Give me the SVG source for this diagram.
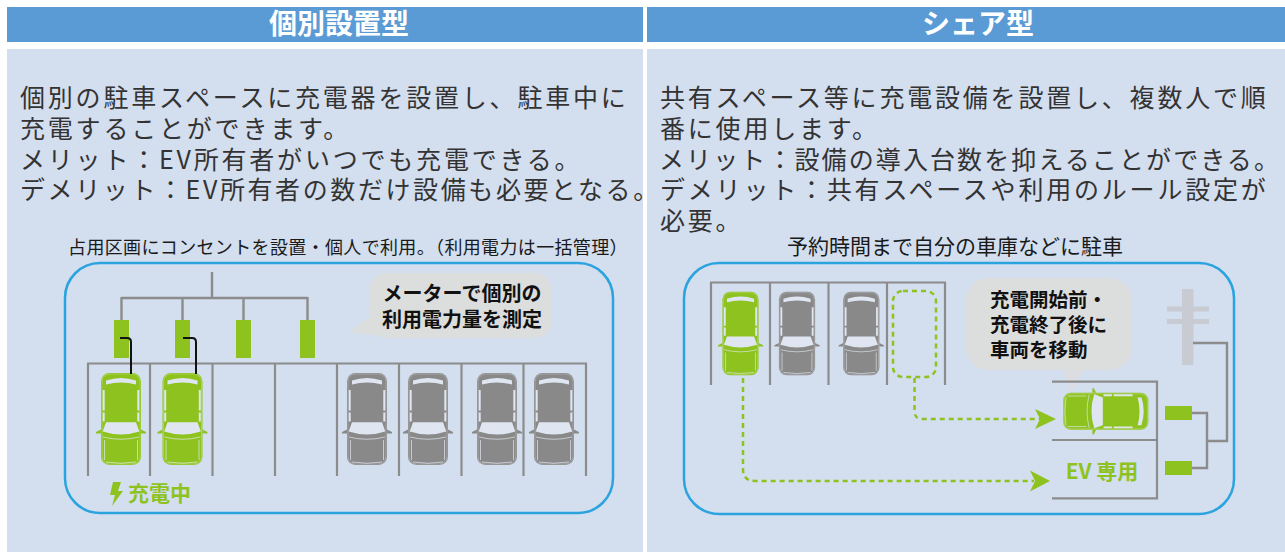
<svg xmlns="http://www.w3.org/2000/svg" xmlns:xlink="http://www.w3.org/1999/xlink" width="1285" height="552" viewBox="0 0 1285 552">
  <style>
    .hdr { fill: #5b9bd5; }
    .panel { fill: #d3deef; }
    .htxt { font-family: "Noto Sans CJK JP", "Liberation Sans", sans-serif; font-weight: 700; font-size: 28px; fill: #ffffff; text-anchor: middle; }
    .desc { font-family: "Noto Sans CJK JP", "Liberation Sans", sans-serif; font-size: 25px; letter-spacing: 2.8px; fill: #333333; }
    .sub { font-family: "Noto Sans CJK JP", "Liberation Sans", sans-serif; font-size: 18px; letter-spacing: 0.35px; fill: #1a1a1a; text-anchor: middle; }
    .bub { font-family: "Noto Sans CJK JP", "Liberation Sans", sans-serif; font-weight: 700; font-size: 20px; fill: #111111; }
    .glbl { font-family: "Noto Sans CJK JP", "Liberation Sans", sans-serif; font-weight: 700; font-size: 21px; fill: #8ec31f; }
    .frame { fill: none; stroke: #2aa3de; stroke-width: 2.5; }
    .lot { fill: none; stroke: #8c8c8c; stroke-width: 2.2; }
    .wire { fill: none; stroke: #8c8c8c; stroke-width: 2.4; }
    .cable { fill: none; stroke: #111111; stroke-width: 2; }
    .plug { fill: #8ec31f; }
    .bubble { fill: #dcdddd; }
    .glass { fill: #dfe6f1; }
    .trim { fill: none; stroke: #e4eaf3; stroke-opacity: 0.75; stroke-width: 0.9; }
    .route { fill: none; stroke: #8ec31f; stroke-width: 2.5; stroke-dasharray: 5 4; }
    .head { fill: #8ec31f; }
    .pole { fill: #c8ccd2; }
  </style>
  <defs>
    <!-- top view of a car, nose pointing towards +y, centred on the origin -->
    <g id="car">
      <path d="M-20,10.5 L-25,13 L-25,14.5 L-20,14.5 Z M20,10.5 L25,13 L25,14.5 L20,14.5 Z" fill="currentColor"/>
      <rect x="-20" y="-46" width="40" height="92" rx="8.5" fill="currentColor"/>
      <rect x="-19" y="-45" width="38" height="90" rx="7.5" fill="none" stroke="#ffffff" stroke-opacity="0.3" stroke-width="0.8"/>
      <path class="glass" d="M-15,-38.5 Q0,-43.5 15,-38.5 L15,-34.5 Q0,-38.5 -15,-34.5 Z"/>
      <path class="glass" d="M-18.3,-29 h2 v20.5 h-2 z M-18.3,-6.5 h2 v9 h-2 z M16.3,-29 h2 v20.5 h-2 z M16.3,-6.5 h2 v9 h-2 z"/>
      <path class="glass" d="M-15,3.2 L15,3.2 L18.3,12.5 Q0,18.5 -18.3,12.5 Z"/>
      <path class="trim" d="M-18,18 Q0,22.5 18,18 M-16.5,21 L-16.5,41 M16.5,21 L16.5,41 M-15,43 Q0,45.5 15,43"/>
    </g>
    <!-- charging bolt -->
    <path id="bolt" d="M3,0 L11,0 L8,9 L13,9 L2,24 L5,13 L0,13 Z"/>
  </defs>

  <rect width="1285" height="552" fill="#ffffff"/>

  <!-- column: individual installation -->
  <g id="header-individual">
    <rect class="hdr" x="7" y="7" width="636" height="35"/>
    <text class="htxt" x="339" y="34">個別設置型</text>
  </g>
  <rect id="panel-individual" class="panel" x="7" y="49" width="636" height="503"/>
  <g id="desc-individual">
    <text class="desc" x="20" y="107">個別の駐車スペースに充電器を設置し、駐車中に</text>
    <text class="desc" x="20" y="138">充電することができます。</text>
    <text class="desc" x="20" y="168.5">メリット：EV所有者がいつでも充電できる。</text>
    <text class="desc" x="20" y="199" style="letter-spacing:2.6px">デメリット：EV所有者の数だけ設備も必要となる。</text>
  </g>

  <!-- column: shared -->
  <g id="header-shared">
    <rect class="hdr" x="647" y="7" width="638" height="35"/>
    <text class="htxt" x="978" y="34">シェア型</text>
  </g>
  <rect id="panel-shared" class="panel" x="647" y="49" width="638" height="503"/>
  <g id="desc-shared">
    <text class="desc" x="660" y="107">共有スペース等に充電設備を設置し、複数人で順</text>
    <text class="desc" x="660" y="138">番に使用します。</text>
    <text class="desc" x="659" y="168.5" style="letter-spacing:2.1px">メリット：設備の導入台数を抑えることができる。</text>
    <text class="desc" x="660" y="199">デメリット：共有スペースや利用のルール設定が</text>
    <text class="desc" x="660" y="229.5">必要。</text>
  </g>

  <!-- individual parking scene -->
  <g id="scene-individual">
    <text class="sub" x="348" y="253.5">占用区画にコンセントを設置・個人で利用。（利用電力は一括管理）</text>
    <rect class="frame" x="65" y="263" width="548" height="250" rx="35"/>

    <g id="meter-bubble">
      <path class="bubble" d="M372,316 L349,332 L380,336 Z"/>
      <rect class="bubble" x="369" y="273" width="183" height="65" rx="18"/>
      <text class="bub" x="462" y="301" text-anchor="middle">メーターで個別の</text>
      <text class="bub" x="462" y="327" text-anchor="middle">利用電力量を測定</text>
    </g>

    <g id="outlets">
      <rect class="plug" x="114" y="320" width="15" height="38"/>
      <rect class="plug" x="175" y="320" width="15" height="38"/>
      <rect class="plug" x="236" y="320" width="15" height="38"/>
      <rect class="plug" x="300" y="320" width="15" height="38"/>
    </g>

    <g id="stalls-individual">
      <path class="lot" d="M87,363.5 H587 M88,363.5 V476 M150,363.5 V476 M212.5,363.5 V476 M275,363.5 V476 M337,363.5 V476 M399,363.5 V476 M461.5,363.5 V476 M523.5,363.5 V476 M586,363.5 V476"/>
    </g>

    <g id="cars-individual">
      <use xlink:href="#car" href="#car" color="#8ec31f" transform="translate(121,419)"/>
      <use xlink:href="#car" href="#car" color="#8ec31f" transform="translate(182.5,419)"/>
      <use xlink:href="#car" href="#car" color="#898989" transform="translate(367,419)"/>
      <use xlink:href="#car" href="#car" color="#898989" transform="translate(428,419)"/>
      <use xlink:href="#car" href="#car" color="#898989" transform="translate(497,419)"/>
      <use xlink:href="#car" href="#car" color="#898989" transform="translate(554,419)"/>
    </g>

    <g id="charging-label">
      <use xlink:href="#bolt" href="#bolt" class="head" transform="translate(110,482)"/>
      <text class="glbl" x="128" y="501">充電中</text>
    </g>
  </g>

  <!-- shared parking scene -->
  <g id="scene-shared">
    <text class="sub" x="955" y="254" style="font-size:21px;letter-spacing:0">予約時間まで自分の車庫などに駐車</text>
    <rect class="frame" x="684" y="263" width="550" height="251" rx="35"/>

    <g id="move-bubble">
      <path class="bubble" d="M1062,366 L1086,366 L1071,392 Z" opacity="0.85"/>
      <rect class="bubble" x="966" y="278" width="166" height="92" rx="22"/>
      <text class="bub" x="990" y="307" style="font-size:19.5px">充電開始前・</text>
      <text class="bub" x="990" y="332" style="font-size:19.5px">充電終了後に</text>
      <text class="bub" x="990" y="357" style="font-size:19.5px">車両を移動</text>
    </g>

    <g id="home-stalls">
      <path class="lot" d="M710,282.5 H946 M711,282.5 V385 M770,282.5 V385 M828.5,282.5 V385 M887,282.5 V385 M945,282.5 V385"/>
      <use xlink:href="#car" href="#car" color="#8ec31f" transform="translate(740.5,333.5) scale(0.905)"/>
      <use xlink:href="#car" href="#car" color="#898989" transform="translate(797,333.5) scale(0.905)"/>
      <use xlink:href="#car" href="#car" color="#898989" transform="translate(861.3,333.5) scale(0.905)"/>
      <rect class="route" x="893" y="291" width="43" height="86" rx="10"/>
    </g>

    <g id="routes">
      <path class="route" d="M743,378 V469 Q743,481 755,481 H1034"/>
      <path class="head" d="M1050,481 L1030,470.5 L1035,481 L1030,491.5 Z"/>
      <path class="route" d="M914.5,378 V411 Q914.5,419 922,419 H1040"/>
      <path class="head" d="M1056,419 L1035,409 L1040,419 L1035,429 Z"/>
    </g>

    <g id="ev-stalls">
      <path class="lot" d="M1052,381.7 H1157 M1052,440 H1157 M1052,498.3 H1158 M1157,380.6 V499.4"/>
      <use xlink:href="#car" href="#car" color="#8ec31f" transform="translate(1105.8,411.3) rotate(90) scale(0.925)"/>
      <text class="glbl" x="1102" y="479" text-anchor="middle">EV 専用</text>
    </g>

    <g id="supply">
      <rect class="pole" x="1182" y="289" width="11.5" height="76"/>
      <rect class="pole" x="1167" y="306.5" width="42" height="5"/>
      <rect class="pole" x="1167" y="319" width="42" height="5"/>
      <path class="wire" d="M1193,343 H1227 V441 H1207 M1191,413 H1207 V468 H1191"/>
      <rect class="plug" x="1165" y="406" width="27" height="14"/>
      <rect class="plug" x="1165" y="461" width="27" height="14"/>
    </g>
  </g>

  <!-- charging cables from the outlets to the plugged-in cars, and the meter wiring -->
  <g id="connectors">
    <path class="cable" d="M120,338 H127 Q131,338 131,342 V374"/>
    <path class="cable" d="M183,338 H192 Q196,338 196,342 V374"/>
    <path class="wire" d="M212,272 V298 M121.5,298 H307.5 M121.5,297 V320 M182.5,297 V320 M243.5,297 V320 M307.5,297 V320"/>
  </g>
</svg>
